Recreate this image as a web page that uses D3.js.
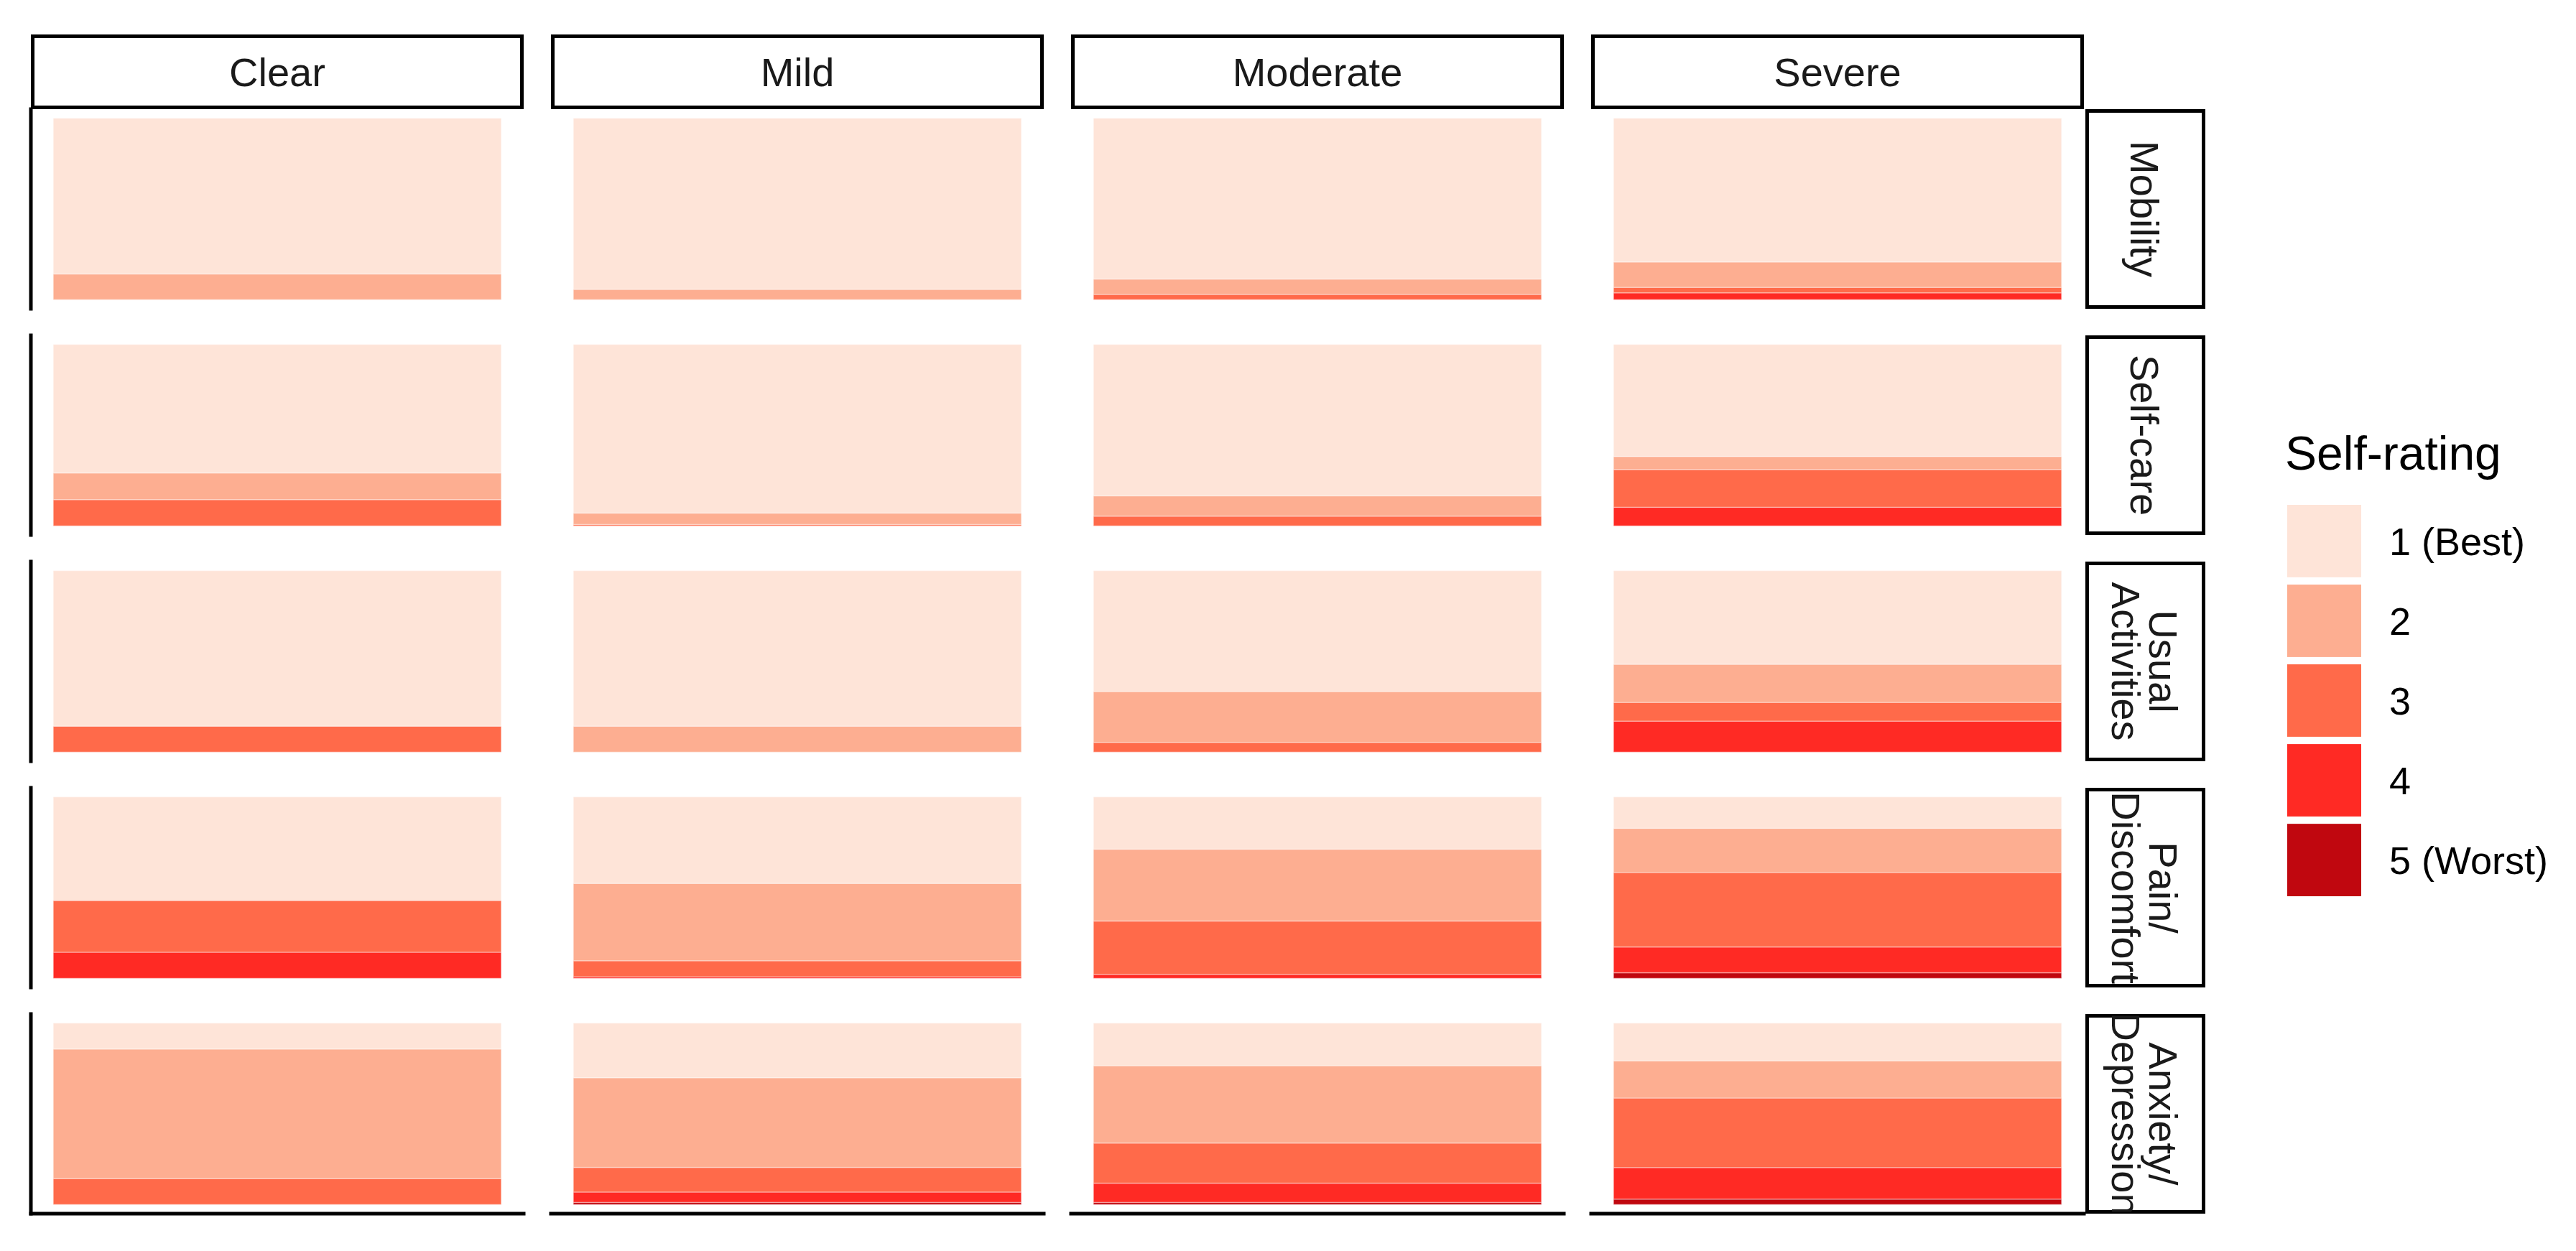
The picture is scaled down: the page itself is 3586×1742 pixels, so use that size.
<!DOCTYPE html>
<html>
<head>
<meta charset="utf-8">
<script src="https://cdn.jsdelivr.net/npm/d3@7"></script>
<style>
  html, body { margin: 0; padding: 0; background: #ffffff; }
  svg { display: block; }
</style>
</head>
<body>
<svg id="chart" width="3586" height="1742"></svg>
<script>
// ---------------- data ----------------
const severities = ["Clear", "Mild", "Moderate", "Severe"];
const dimensions = ["Mobility", "Self-care", "Usual\nActivities", "Pain/\nDiscomfort", "Anxiety/\nDepression"];
const ratings = ["1 (Best)", "2", "3", "4", "5 (Worst)"];
const ratingColors = ["#FEE4D8", "#FDAE91", "#FF6A4A", "#FF2A24", "#C0070F"];

// share (%) of each self-rating 1..5, one row per severity (Clear, Mild, Moderate, Severe)
const mobility = [
  [85.8, 14.2, 0, 0, 0],
  [94.3, 5.7, 0, 0, 0],
  [88.6, 8.5, 2.9, 0, 0],
  [79.2, 14.0, 3.0, 3.8, 0]
];
const selfCare = [
  [70.8, 14.7, 14.5, 0, 0],
  [92.9, 6.3, 0.8, 0, 0],
  [83.4, 11.2, 5.4, 0, 0],
  [61.7, 7.2, 20.8, 10.3, 0]
];
const usualActivities = [
  [85.7, 0, 14.3, 0, 0],
  [85.7, 14.3, 0, 0, 0],
  [66.6, 28.0, 5.4, 0, 0],
  [51.6, 21.0, 10.3, 17.1, 0]
];
const painDiscomfort = [
  [57.1, 0, 28.5, 14.4, 0],
  [47.7, 42.6, 8.8, 0.9, 0],
  [28.8, 39.6, 29.4, 2.2, 0],
  [17.3, 24.4, 41.0, 14.2, 3.1]
];
const anxietyDepression = [
  [14.3, 71.4, 14.3, 0, 0],
  [30.1, 49.4, 13.6, 5.7, 1.2],
  [23.5, 42.6, 22.1, 10.6, 1.2],
  [20.8, 20.5, 38.3, 17.4, 3.0]
];
const dimensionValues = [mobility, selfCare, usualActivities, painDiscomfort, anxietyDepression];

// ---------------- layout ----------------
const L = {
  left: 43, top: 152,
  panelW: 686, panelH: 278,
  gapX: 38, gapY: 37,
  stripH: 104, stripW: 167, stripPad: 2,
  border: 5,
  stripFont: 56,
  font: "'Liberation Sans', Arial, Helvetica, sans-serif"
};
const gridW = 4 * L.panelW + 3 * L.gapX;
const gridH = 5 * L.panelH + 4 * L.gapY;

const svg = d3.select("#chart");
svg.append("rect").attr("width", 3586).attr("height", 1742).attr("fill", "#ffffff");

const colBand = d3.scaleBand().domain(severities)
  .range([L.left, L.left + gridW])
  .paddingInner(L.gapX / (L.panelW + L.gapX)).paddingOuter(0);
const rowBand = d3.scaleBand().domain(dimensions)
  .range([L.top, L.top + gridH])
  .paddingInner(L.gapY / (L.panelH + L.gapY)).paddingOuter(0);

const color = d3.scaleOrdinal().domain(ratings).range(ratingColors);

// ---------------- panels ----------------
dimensions.forEach((dim, ri) => {
  severities.forEach((sev, ci) => {
    const x0 = colBand(sev), y0 = rowBand(dim);
    const pw = colBand.bandwidth(), ph = rowBand.bandwidth();
    const x = d3.scaleLinear().domain([-0.05, 1.05]).range([x0, x0 + pw]);
    const y = d3.scaleLinear().domain([-0.05, 1.05]).range([y0 + ph, y0]);
    const vals = dimensionValues[ri][ci];
    const total = d3.sum(vals);
    // stack: rating 5 at bottom, rating 1 on top
    const segs = [];
    let acc = 0;
    for (let k = ratings.length - 1; k >= 0; k--) {
      const v = vals[k] / total;
      segs.push({ rating: ratings[k], y0: acc, y1: acc + v, v });
      acc += v;
    }
    const g = svg.append("g");
    g.selectAll("rect")
      .data(segs.filter(d => d.v > 0))
      .join("rect")
      .attr("x", x(0))
      .attr("width", x(1) - x(0))
      .attr("y", d => y(d.y1))
      .attr("height", d => y(d.y0) - y(d.y1))
      .attr("fill", d => color(d.rating))
      .attr("stroke", "#ffffff")
      .attr("stroke-opacity", 0.35)
      .attr("stroke-width", 1.5);

    // left axis line (first column only)
    if (ci === 0) {
      svg.append("line")
        .attr("x1", x0).attr("x2", x0)
        .attr("y1", y0).attr("y2", y0 + ph)
        .attr("stroke", "#000").attr("stroke-width", L.border)
        .attr("stroke-linecap", "square");
    }
    // bottom axis line (last row only)
    if (ri === dimensions.length - 1) {
      svg.append("line")
        .attr("x1", x0).attr("x2", x0 + pw)
        .attr("y1", y0 + ph).attr("y2", y0 + ph)
        .attr("stroke", "#000").attr("stroke-width", L.border)
        .attr("stroke-linecap", "square");
    }
  });
});

// ---------------- column strips ----------------
const b = L.border;
severities.forEach(sev => {
  const x0 = colBand(sev), pw = colBand.bandwidth();
  const sy = L.top - L.stripH;
  svg.append("rect")
    .attr("x", x0 + b / 2).attr("y", sy + b / 2)
    .attr("width", pw - b).attr("height", L.stripH - b)
    .attr("fill", "#fff").attr("stroke", "#000").attr("stroke-width", b);
  svg.append("text")
    .attr("x", x0 + pw / 2)
    .attr("y", sy + L.stripH / 2 + 0.36 * L.stripFont)
    .attr("text-anchor", "middle")
    .attr("font-family", L.font).attr("font-size", L.stripFont)
    .attr("fill", "#1a1a1a")
    .text(sev);
});

// ---------------- row strips ----------------
const defs = svg.append("defs");
const sx = L.left + gridW + L.stripPad;
dimensions.forEach((dim, ri) => {
  const y0 = rowBand(dim), ph = rowBand.bandwidth();
  const id = "clip-row-" + ri;
  defs.append("clipPath").attr("id", id)
    .append("rect")
    .attr("x", sx).attr("y", y0 + b / 2)
    .attr("width", L.stripW).attr("height", ph - b);
  svg.append("rect")
    .attr("x", sx + b / 2).attr("y", y0 + b / 2)
    .attr("width", L.stripW - b).attr("height", ph - b)
    .attr("fill", "#fff").attr("stroke", "#000").attr("stroke-width", b);
  const lines = dim.split("\n");
  const lineGap = 52;
  const cx = sx + L.stripW / 2, cy = y0 + ph / 2;
  const g = svg.append("g").attr("clip-path", "url(#" + id + ")");
  const t = g.append("text")
    .attr("transform", `translate(${cx},${cy}) rotate(90)`)
    .attr("text-anchor", "middle")
    .attr("font-family", L.font).attr("font-size", L.stripFont)
    .attr("fill", "#1a1a1a");
  const startDy = -((lines.length - 1) * lineGap) / 2 + 0.36 * L.stripFont;
  lines.forEach((ln, i) => {
    t.append("tspan")
      .attr("x", 0)
      .attr("y", startDy + i * lineGap)
      .text(ln);
  });
});

// ---------------- legend ----------------
const leg = svg.append("g");
leg.append("text")
  .attr("x", 3181).attr("y", 654)
  .attr("font-family", L.font).attr("font-size", 66)
  .attr("fill", "#000")
  .text("Self-rating");
const keyY = d3.scaleBand().domain(ratings).range([703, 703 + 5 * 109]).paddingInner(10 / 109);
ratings.forEach(r => {
  leg.append("rect")
    .attr("x", 3184).attr("y", keyY(r))
    .attr("width", 103).attr("height", keyY.bandwidth())
    .attr("fill", color(r));
  leg.append("text")
    .attr("x", 3326)
    .attr("y", keyY(r) + keyY.bandwidth() / 2 + 0.36 * 54)
    .attr("font-family", L.font).attr("font-size", 54)
    .attr("fill", "#000")
    .text(r);
});
</script>
</body>
</html>
